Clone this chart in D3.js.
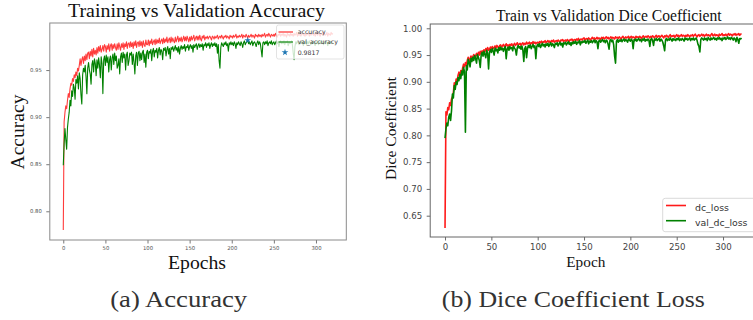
<!DOCTYPE html>
<html>
<head>
<meta charset="utf-8">
<script src="https://cdn.jsdelivr.net/npm/d3@7"></script>
<style>
  html, body { margin: 0; padding: 0; background: #fff; }
  svg { display: block; }
</style>
</head>
<body>
<svg id="chart" width="753" height="320"></svg>
<script>
// ---------------- DATA ----------------
const accTicksY = [0.80, 0.85, 0.90, 0.95];
const dcTicksY = [0.65, 0.70, 0.75, 0.80, 0.85, 0.90, 0.95, 1.00];
const epochTicks = [0, 50, 100, 150, 200, 250, 300];

const accuracy = [
.780,.895,.905,.912,.909,.918,.925,.921,.930,.936,
.934,.941,.938,.945,.942,.948,.944,.952,.949,.955,
.962,.955,.961,.964,.957,.965,.960,.967,.961,.968,
.969,.962,.970,.965,.972,.964,.973,.967,.971,.966,
.974,.968,.975,.970,.976,.969,.972,.976,.970,.977,
.975,.969,.976,.972,.978,.970,.976,.978,.971,.977,
.973,.978,.974,.971,.978,.972,.979,.975,.971,.978,
.974,.979,.972,.978,.975,.980,.973,.978,.979,.974,
.980,.975,.979,.973,.980,.976,.981,.974,.979,.980,
.975,.981,.976,.980,.974,.981,.977,.975,.982,.977,
.977,.982,.976,.981,.978,.983,.977,.980,.982,.977,
.983,.978,.982,.979,.984,.978,.981,.983,.978,.984,
.979,.983,.980,.985,.979,.982,.984,.979,.985,.980,
.984,.981,.979,.985,.980,.983,.986,.980,.984,.981,
.985,.980,.983,.986,.981,.985,.981,.986,.983,.980,
.985,.981,.986,.982,.984,.987,.981,.984,.986,.982,
.986,.982,.987,.983,.981,.986,.984,.987,.982,.985,
.984,.986,.983,.985,.986,.984,.982,.986,.985,.983,
.986,.984,.985,.987,.983,.985,.986,.984,.987,.985,
.983,.986,.985,.987,.984,.986,.985,.983,.987,.985,
.986,.984,.987,.985,.986,.988,.984,.986,.985,.987,
.985,.986,.988,.984,.987,.986,.985,.988,.986,.984,
.987,.985,.986,.988,.985,.987,.986,.984,.988,.986,
.987,.985,.988,.986,.987,.985,.988,.986,.987,.989,
.985,.987,.988,.986,.989,.987,.985,.988,.987,.986,
.988,.986,.989,.987,.985,.988,.987,.989,.986,.988,
.987,.989,.986,.988,.987,.985,.989,.987,.988,.986,
.989,.987,.988,.986,.989,.987,.988,.990,.986,.988,
.987,.989,.986,.988,.990,.987,.988,.986,.989,.987,
.988,.990,.986,.989,.987,.988,.990,.987,.989,.986,
.988,.989,.987,.990,.988,.986,.989,.988,.990,.987,
.989,.987,.988,.990,.986,.989,.988,.987,.990,.988,
.989];

const valAccuracy = [
.849,.872,.888,.876,.866,.889,.898,.905,.918,.912,
.928,.922,.935,.931,.919,.940,.936,.944,.930,.947,
.941,.924,.914,.945,.952,.948,.955,.943,.925,.952,
.958,.950,.946,.935,.956,.960,.948,.962,.957,.944,
.961,.952,.963,.955,.942,.964,.957,.925,.961,.965,
.955,.966,.958,.964,.948,.961,.965,.950,.963,.967,
.956,.968,.960,.965,.952,.955,.962,.946,.964,.968,
.958,.969,.963,.967,.950,.966,.969,.955,.960,.968,
.966,.969,.956,.967,.958,.946,.965,.969,.955,.968,
.970,.960,.968,.961,.969,.971,.958,.967,.953,.969,
.971,.962,.970,.968,.972,.960,.970,.973,.964,.971,
.969,.973,.963,.971,.974,.966,.972,.970,.961,.973,
.971,.974,.965,.972,.975,.967,.973,.962,.974,.972,
.975,.970,.973,.976,.971,.974,.969,.975,.967,.973,
.976,.972,.975,.973,.977,.970,.975,.974,.977,.971,
.975,.977,.973,.976,.969,.977,.974,.976,.978,.972,
.976,.978,.974,.977,.975,.978,.971,.977,.976,.979,
.974,.978,.976,.979,.973,.977,.979,.975,.978,.976,
.979,.975,.978,.968,.977,.960,.952,.974,.979,.977,
.975,.979,.977,.980,.976,.978,.970,.979,.977,.980,
.977,.979,.976,.980,.978,.973,.979,.977,.980,.978,
.976,.980,.978,.974,.979,.981,.977,.979,.980,.9817,
.978,.980,.977,.979,.981,.976,.979,.980,.978,.975,
.979,.981,.977,.980,.978,.971,.964,.979,.980,.977,
.980,.978,.981,.976,.979,.980,.978,.981,.977,.979,
.980,.977,.979,.981,.978,.980,.975,.979,.981,.978,
.980,.978,.981,.977,.980,.979,.981,.976,.980,.978,
.979,.981,.977,.968,.961,.975,.980,.978,.981,.979,
.977,.980,.978,.981,.979,.976,.980,.978,.981,.977,
.980,.978,.981,.979,.977,.980,.978,.981,.979,.976,
.980,.978,.981,.977,.979,.980,.978,.981,.979,.977,
.980,.978,.981,.979,.976,.980,.978,.979,.981,.978,
.979];

const bestEpoch = [219];
const bestValue = [0.9817];

const dcLoss = [
.627,.844,.838,.852,.848,.861,.856,.868,.872,.880,
.898,.892,.905,.900,.912,.918,.910,.921,.915,.926,
.933,.928,.936,.931,.940,.946,.938,.943,.948,.944,
.947,.951,.945,.949,.953,.948,.955,.950,.957,.952,
.958,.954,.960,.956,.962,.958,.964,.959,.961,.965,
.961,.966,.962,.964,.967,.963,.968,.965,.963,.968,
.969,.965,.967,.970,.966,.968,.971,.967,.969,.966,
.970,.968,.971,.967,.969,.972,.968,.970,.973,.969,
.970,.972,.968,.971,.973,.969,.972,.970,.974,.971,
.972,.974,.970,.973,.971,.975,.972,.974,.971,.973,
.974,.972,.975,.973,.976,.972,.975,.974,.977,.973,
.975,.977,.974,.976,.973,.977,.975,.978,.974,.976,
.977,.975,.978,.976,.974,.978,.977,.979,.975,.977,
.978,.976,.979,.977,.975,.979,.978,.980,.976,.978,
.979,.977,.980,.978,.981,.977,.979,.980,.978,.981,
.982,.978,.980,.981,.979,.982,.980,.978,.981,.983,
.980,.982,.979,.981,.983,.980,.982,.981,.979,.983,
.981,.983,.980,.982,.984,.981,.983,.980,.982,.984,
.981,.983,.982,.980,.984,.982,.983,.981,.984,.982,
.980,.983,.985,.982,.981,.984,.982,.983,.985,.981,
.983,.985,.982,.984,.983,.981,.985,.983,.984,.982,
.985,.983,.981,.984,.986,.982,.984,.985,.983,.986,
.984,.982,.985,.983,.986,.984,.982,.985,.987,.983,
.985,.986,.983,.985,.987,.984,.982,.986,.984,.987,
.985,.983,.986,.988,.984,.986,.985,.987,.983,.986,
.988,.985,.987,.984,.986,.988,.985,.987,.986,.984,
.987,.985,.988,.986,.984,.987,.986,.988,.985,.987,
.989,.986,.984,.987,.988,.985,.987,.989,.986,.988,
.985,.987,.989,.986,.988,.987,.985,.988,.990,.986,
.987,.989,.986,.988,.987,.985,.989,.987,.988,.990,
.986,.988,.987,.989,.986,.988,.990,.987,.989,.988,
.986,.989,.988,.990,.987,.989,.988,.990,.987,.989,
.990];

const valDcLoss = [
.795,.812,.823,.818,.834,.840,.828,.846,.877,.870,
.893,.886,.900,.895,.908,.902,.914,.906,.920,.913,
.927,.919,.806,.930,.922,.942,.936,.928,.944,.938,
.946,.940,.949,.943,.935,.951,.946,.940,.927,.950,
.955,.948,.957,.951,.945,.959,.953,.924,.956,.960,
.955,.962,.957,.950,.963,.958,.961,.954,.964,.959,
.965,.960,.963,.957,.962,.966,.943,.961,.965,.959,
.966,.962,.964,.958,.967,.963,.960,.950,.964,.968,
.963,.966,.961,.967,.959,.938,.962,.966,.945,.963,
.968,.964,.969,.962,.966,.970,.964,.967,.943,.966,
.970,.966,.971,.964,.968,.972,.967,.970,.965,.971,
.968,.972,.966,.970,.973,.967,.971,.969,.964,.972,
.970,.973,.967,.971,.974,.969,.972,.965,.973,.971,
.974,.969,.972,.975,.970,.973,.968,.974,.971,.975,
.972,.976,.970,.974,.973,.977,.969,.975,.973,.976,
.974,.977,.972,.975,.978,.971,.976,.974,.977,.973,
.976,.978,.973,.977,.975,.962,.976,.978,.974,.977,
.979,.975,.977,.973,.978,.976,.970,.961,.977,.979,
.975,.978,.969,.948,.935,.976,.979,.974,.978,.976,
.979,.975,.978,.980,.976,.979,.977,.974,.980,.978,
.976,.980,.977,.962,.979,.977,.980,.976,.979,.981,
.977,.979,.975,.980,.978,.981,.976,.979,.977,.980,
.978,.966,.979,.981,.977,.968,.980,.978,.981,.977,
.979,.981,.976,.980,.978,.974,.967,.958,.979,.981,
.977,.980,.978,.982,.979,.976,.981,.978,.980,.977,
.981,.979,.982,.977,.980,.978,.981,.979,.976,.982,
.979,.981,.978,.980,.982,.977,.981,.979,.982,.978,
.980,.982,.977,.970,.966,.956,.979,.982,.980,.978,
.982,.979,.981,.977,.983,.980,.978,.982,.979,.981,
.983,.979,.981,.978,.982,.980,.983,.979,.981,.977,
.982,.980,.983,.979,.981,.984,.980,.982,.979,.983,
.981,.978,.982,.980,.975,.983,.979,.972,.981,.980,
.982];

const epochs = accuracy.map((_, i) => i);

// ---------------- DRAW ----------------
const svg = d3.select("#chart");
const SERIF = "'Liberation Serif', 'Times New Roman', serif";
const SANS = "'DejaVu Sans', sans-serif";

function drawPanel(cfg) {
  const x = d3.scaleLinear().domain([-16, 336]).range([cfg.left, cfg.right]);
  const y = d3.scaleLinear().domain(cfg.yDomain).range([cfg.bottom, cfg.top]);
  const g = svg.append("g");

  const line = d3.line().x((d, i) => x(epochs[i])).y(d => y(d));
  cfg.series.forEach(s => {
    g.append("path").datum(s.values)
      .attr("fill", "none").attr("stroke", s.color)
      .attr("stroke-width", cfg.lw).attr("stroke-linejoin", "round")
      .attr("stroke-opacity", s.opacity || 1)
      .attr("d", line);
  });

  const yAxis = d3.axisLeft(y).tickValues(cfg.yTicks).tickFormat(d3.format(".2f"))
    .tickSize(3.5).tickPadding(cfg.tickPad);
  const xAxis = d3.axisBottom(x).tickValues(epochTicks).tickFormat(d3.format("d"))
    .tickSize(3.5).tickPadding(cfg.tickPadX);
  const ya = g.append("g").attr("transform", `translate(${cfg.left},0)`).call(yAxis);
  const xa = g.append("g").attr("transform", `translate(0,${cfg.bottom})`).call(xAxis);
  [ya, xa].forEach(a => {
    a.select(".domain").remove();
    a.selectAll("line").attr("stroke", cfg.tickColor).attr("stroke-width", 0.8);
    a.selectAll("text").attr("fill", cfg.tickColor)
      .style("font-family", SANS).style("font-size", cfg.tickFont + "px");
  });

  g.append("rect")
    .attr("x", cfg.left).attr("y", cfg.top)
    .attr("width", cfg.right - cfg.left).attr("height", cfg.bottom - cfg.top)
    .attr("fill", "none").attr("stroke", cfg.frameColor).attr("stroke-width", 1);
  return {x, y, g};
}

// ---- Panel (a): Accuracy ----
const A = drawPanel({
  left: 49.8, right: 346.3, top: 23, bottom: 240,
  yDomain: [0.7695, 1.0], yTicks: accTicksY,
  series: [
    {values: accuracy, color: "#ff1a1a", opacity: 0.85},
    {values: valAccuracy, color: "#008000"}
  ],
  lw: 1.1, tickFont: 5.3, tickPad: 4.5, tickPadX: 2.5,
  tickColor: "#555", frameColor: "#8a8a8a"
});

A.g.append("path")
  .attr("d", d3.symbol(d3.symbolStar, 14)())
  .attr("transform", `translate(${A.x(bestEpoch[0])},${A.y(bestValue[0])})`)
  .attr("fill", "#1f77b4");

const lgA = svg.append("g");
lgA.append("rect").attr("x", 276.5).attr("y", 25).attr("width", 67.5).attr("height", 34)
  .attr("rx", 2).attr("fill", "white").attr("fill-opacity", 0.8)
  .attr("stroke", "#d0d0d0").attr("stroke-width", 0.6);
[
  {label: "accuracy", color: "#ff1a1a", y: 32},
  {label: "val_accuracy", color: "#008000", y: 42}
].forEach(e => {
  lgA.append("line").attr("x1", 278.5).attr("x2", 293).attr("y1", e.y).attr("y2", e.y)
    .attr("stroke", e.color).attr("stroke-width", 1.1);
  lgA.append("text").attr("x", 297.7).attr("y", e.y + 2.2).text(e.label)
    .style("font-family", SANS).style("font-size", "6.2px").attr("fill", "#333");
});
lgA.append("path").attr("d", d3.symbol(d3.symbolStar, 14)())
  .attr("transform", "translate(285,52.3)").attr("fill", "#1f77b4");
lgA.append("text").attr("x", 297.7).attr("y", 54.5).text(d3.format(".4f")(bestValue[0]))
  .style("font-family", SANS).style("font-size", "6.2px").attr("fill", "#333");

svg.append("text").attr("x", 196.5).attr("y", 17).attr("text-anchor", "middle")
  .attr("textLength", 257).attr("lengthAdjust", "spacingAndGlyphs")
  .style("font-family", SERIF).style("font-size", "19.6px").attr("fill", "#111")
  .text("Training vs Validation Accuracy");
svg.append("text").attr("transform", "translate(23.5,132) rotate(-90)")
  .attr("text-anchor", "middle").attr("textLength", 75).attr("lengthAdjust", "spacingAndGlyphs")
  .style("font-family", SERIF).style("font-size", "19.6px").attr("fill", "#111")
  .text("Accuracy");
svg.append("text").attr("x", 197).attr("y", 269).attr("text-anchor", "middle")
  .attr("textLength", 58).attr("lengthAdjust", "spacingAndGlyphs")
  .style("font-family", SERIF).style("font-size", "19.6px").attr("fill", "#111")
  .text("Epochs");
svg.append("text").attr("x", 178.7).attr("y", 306.5).attr("text-anchor", "middle")
  .attr("textLength", 137).attr("lengthAdjust", "spacingAndGlyphs")
  .style("font-family", SERIF).style("font-size", "23px").attr("fill", "#333")
  .text("(a) Accuracy");

// ---- Panel (b): Dice coefficient ----
const B = drawPanel({
  left: 430.2, right: 756.4, top: 24, bottom: 237,
  yDomain: [0.6102, 1.008], yTicks: dcTicksY,
  series: [
    {values: dcLoss, color: "#ff1a1a"},
    {values: valDcLoss, color: "#008000"}
  ],
  lw: 1.6, tickFont: 8.6, tickPad: 4.5, tickPadX: 3,
  tickColor: "#444", frameColor: "#666"
});

const lgB = svg.append("g");
lgB.append("rect").attr("x", 662.7).attr("y", 198.3).attr("width", 95).attr("height", 33.4)
  .attr("rx", 2.5).attr("fill", "white").attr("fill-opacity", 0.8)
  .attr("stroke", "#d0d0d0").attr("stroke-width", 0.8);
[
  {label: "dc_loss", color: "#ff1a1a", y: 205.5, ty: 210.7},
  {label: "val_dc_loss", color: "#008000", y: 220.7, ty: 226}
].forEach(e => {
  lgB.append("line").attr("x1", 666).attr("x2", 686).attr("y1", e.y).attr("y2", e.y)
    .attr("stroke", e.color).attr("stroke-width", 1.6);
  lgB.append("text").attr("x", 695).attr("y", e.ty).text(e.label)
    .style("font-family", SANS).style("font-size", "9.4px").attr("fill", "#333");
});

svg.append("text").attr("x", 608.8).attr("y", 20.5).attr("text-anchor", "middle")
  .attr("textLength", 225.7).attr("lengthAdjust", "spacingAndGlyphs")
  .style("font-family", SERIF).style("font-size", "16px").attr("fill", "#111")
  .text("Train vs Validation Dice Coefficient");
svg.append("text").attr("transform", "translate(396,128.5) rotate(-90)")
  .attr("text-anchor", "middle").attr("textLength", 103).attr("lengthAdjust", "spacingAndGlyphs")
  .style("font-family", SERIF).style("font-size", "15.5px").attr("fill", "#111")
  .text("Dice Coefficient");
svg.append("text").attr("x", 585.8).attr("y", 267.3).attr("text-anchor", "middle")
  .attr("textLength", 39).attr("lengthAdjust", "spacingAndGlyphs")
  .style("font-family", SERIF).style("font-size", "15.5px").attr("fill", "#111")
  .text("Epoch");
svg.append("text").attr("x", 573.3).attr("y", 306.5).attr("text-anchor", "middle")
  .attr("textLength", 263).attr("lengthAdjust", "spacingAndGlyphs")
  .style("font-family", SERIF).style("font-size", "23px").attr("fill", "#333")
  .text("(b) Dice Coefficient Loss");
</script>
</body>
</html>
